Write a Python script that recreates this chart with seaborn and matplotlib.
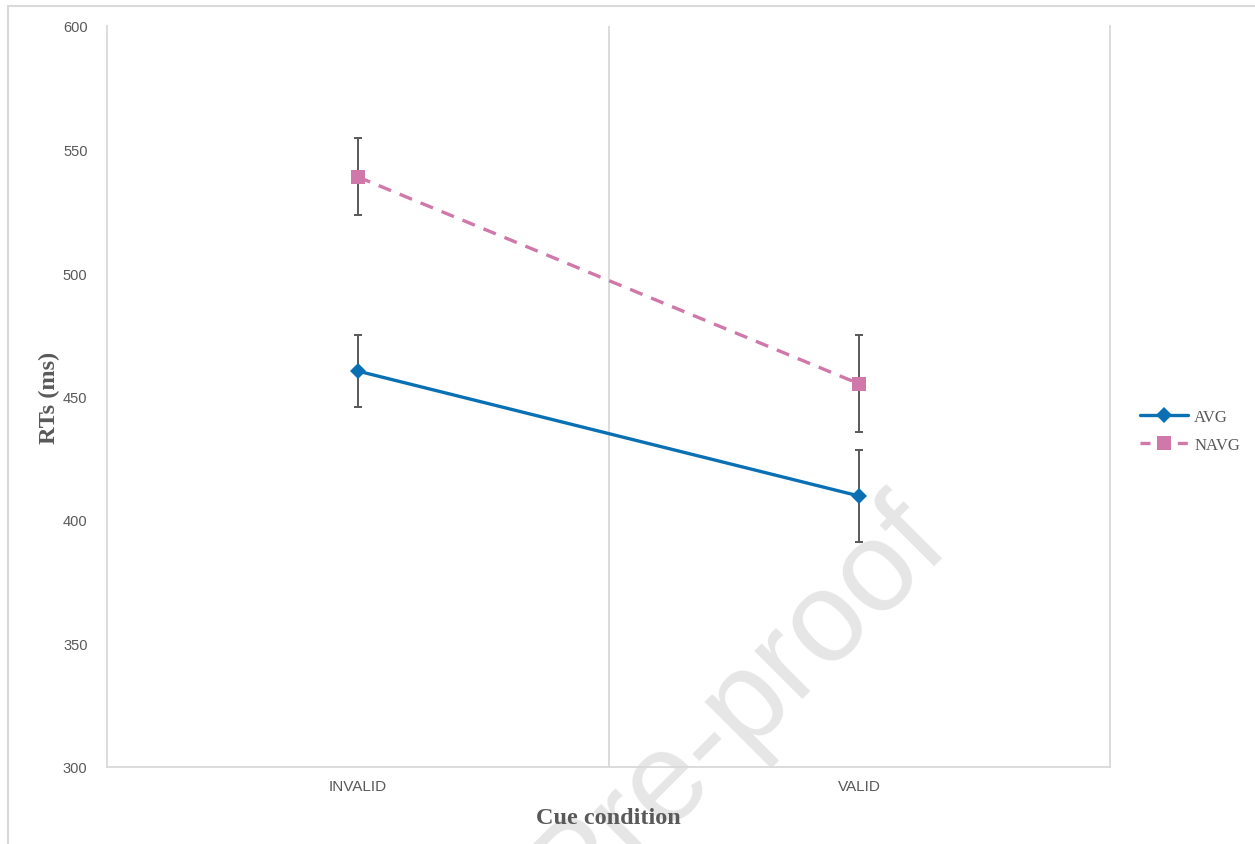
import matplotlib
matplotlib.use("Agg")
import matplotlib.pyplot as plt
from matplotlib.patches import Rectangle
import seaborn as sns
import pandas as pd

# Reaction times by cue condition for the two groups
conditions = ["INVALID", "VALID"]
groups = ["AVG", "NAVG"]
avg_rt = [460.3, 409.7]
avg_err = [14.6, 18.6]
navg_rt = [538.9, 455.1]
navg_err = [15.6, 19.6]

df = pd.DataFrame({
    "condition": conditions * 2,
    "group": [groups[0]] * 2 + [groups[1]] * 2,
    "rt": avg_rt + navg_rt,
})

sns.set_theme(style="white")
plt.rcParams["font.family"] = ["Liberation Sans", "DejaVu Sans"]

W, H = 1255, 845
fig = plt.figure(figsize=(W / 100, H / 100), dpi=100)
fig.patch.set_facecolor("white")

# light frame around the chart area
fig.patches.append(Rectangle((8 / W, -0.1), 1.2, 1 - 7 / H + 0.1,
                             transform=fig.transFigure, fill=False,
                             edgecolor="#d9d9d9", linewidth=1.5, zorder=-5))

# diagonal watermark behind the plot
fig.text(950 / W, 1 - 542 / H, "Pre-proof", rotation=45, rotation_mode="anchor",
         ha="right", va="baseline", fontsize=92, color="#e6e6e6",
         family=["Liberation Sans", "DejaVu Sans"], zorder=-4)

ax = fig.add_axes([107 / W, 1 - 768 / H, (1110 - 107) / W, (768 - 27) / H])
ax.patch.set_alpha(0)

blue = "#0a70b4"
pink = "#cf78a9"
grey = "#595959"
dash = (4.0, 2.8)

# separator between the two categories
ax.axvline(0.5, color="#d9d9d9", lw=1.3, zorder=0)

# error bars
ax.errorbar([0, 1], avg_rt, yerr=avg_err, fmt="none", ecolor=grey,
            elinewidth=1.4, capsize=3.2, capthick=1.4, zorder=2)
ax.errorbar([0, 1], navg_rt, yerr=navg_err, fmt="none", ecolor=grey,
            elinewidth=1.4, capsize=3.2, capthick=1.4, zorder=2)

sns.lineplot(data=df, x="condition", y="rt", hue="group", style="group",
             palette={"AVG": blue, "NAVG": pink},
             markers={"AVG": "D", "NAVG": "s"},
             dashes={"AVG": "", "NAVG": dash},
             linewidth=2.4, markersize=8, markeredgewidth=0,
             ax=ax, zorder=3, legend=False)
for line, ms in zip(ax.get_lines()[-2:], [8, 9.5]):
    line.set_markersize(ms)

ax.set_xlim(-0.5, 1.5)
ax.set_ylim(300, 600)
ax.set_yticks([300, 350, 400, 450, 500, 550, 600])
ax.set_xticks([0, 1])
ax.set_xticklabels(conditions)

for s in ["left", "right", "bottom"]:
    ax.spines[s].set_color("#d9d9d9")
    ax.spines[s].set_linewidth(1.3)
ax.spines["top"].set_visible(False)

ax.tick_params(axis="y", length=0, pad=14, labelsize=10.5, labelcolor=grey)
ax.tick_params(axis="x", length=0, pad=9, labelsize=11, labelcolor=grey)

serif_bold = dict(family=["Liberation Serif", "DejaVu Serif"], fontweight="bold",
                  fontsize=17.5, color=grey)
ax.set_xlabel("Cue condition", labelpad=10, **serif_bold)
ax.set_ylabel("RTs (ms)", labelpad=2, **serif_bold)

handles = [
    plt.Line2D([], [], color=blue, lw=2.4, marker="D", markersize=8,
               markeredgewidth=0),
    plt.Line2D([], [], color=pink, lw=2.4, ls=(0, (3.0, 2.6)), marker="s",
               markersize=9.5, markeredgewidth=0),
]
leg = fig.legend(handles, groups, loc="center left",
                 bbox_to_anchor=(1125 / W, 1 - 432 / H), frameon=False,
                 handlelength=2.9, handletextpad=0.35, labelspacing=0.75,
                 prop={"family": ["Liberation Serif", "DejaVu Serif"], "size": 12})
for t in leg.get_texts():
    t.set_color(grey)

fig.savefig("out.png", dpi=100)
